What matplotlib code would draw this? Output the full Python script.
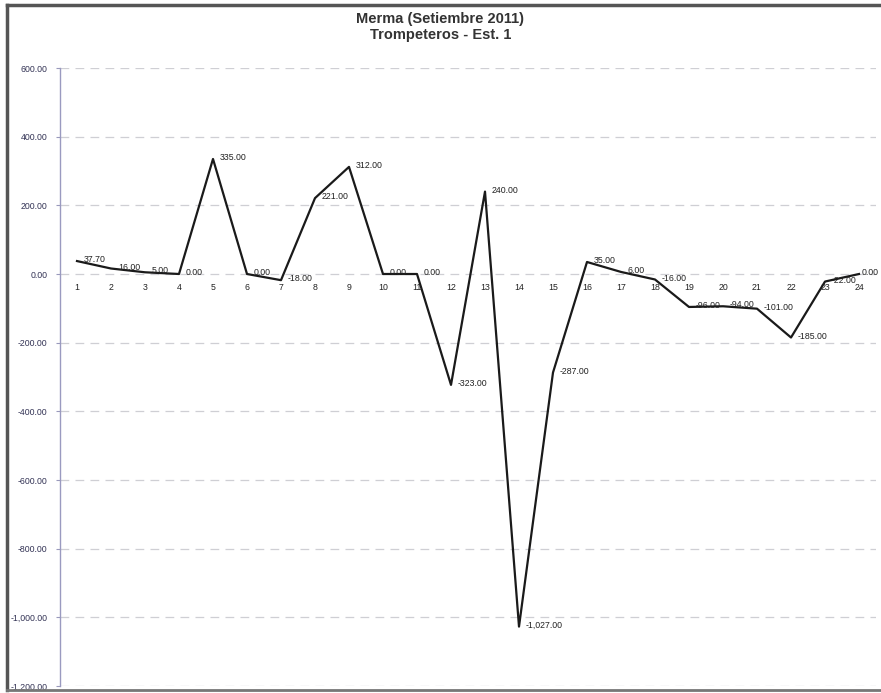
import matplotlib
matplotlib.use("Agg")
import matplotlib.pyplot as plt
from matplotlib.lines import Line2D

plt.rcParams['font.family'] = ['Liberation Sans', 'DejaVu Sans']

categories = [str(i) for i in range(1, 25)]
values = [37.70, 16.00, 5.00, 0.00, 335.00, 0.00, -18.00, 221.00, 312.00, 0.00,
          0.00, -323.00, 240.00, -1027.00, -287.00, 35.00, 6.00, -16.00,
          -96.00, -94.00, -101.00, -185.00, -22.00, 0.00]
yticks = [600, 400, 200, 0, -200, -400, -600, -800, -1000, -1200]

fig = plt.figure(figsize=(8.81, 6.93), dpi=100)
ax = fig.add_axes([60/881, 7/693, 816/881, 618/693])

x = list(range(len(categories)))
ax.plot(x, values, color='#1a1a1a', lw=1.6, zorder=3)

ax.set_xlim(-0.5, len(categories) - 0.5)
ax.set_ylim(-1200, 600)
ax.set_yticks(yticks)
ax.set_yticklabels([f"{v:,.2f}" for v in yticks], fontsize=6.3, color='#333355')
ax.tick_params(axis='y', length=3, color='#9999bb', pad=6)
ax.set_xticks([])

for v in yticks:
    ax.axhline(v, color='#cfcfd4', lw=0.9, ls=(0, (7, 5)), zorder=1)

for s in ['top', 'right', 'bottom']:
    ax.spines[s].set_visible(False)
ax.spines['left'].set_color('#9a9ac0')
ax.spines['left'].set_linewidth(1.0)

for i, c in enumerate(categories):
    ax.annotate(c, xy=(i, 0), xytext=(0, -10), textcoords='offset points',
                ha='center', va='center', fontsize=6.3, color='#222222')

n = len(values)
for i, v in enumerate(values):
    dx = 2 if i == n - 1 else 5
    ax.annotate(f"{v:,.2f}", xy=(i, v), xytext=(dx, 1), textcoords='offset points',
                ha='left', va='center', fontsize=6.3, color='#222222', annotation_clip=False)

fig.text(0.5, 0.961, "Merma (Setiembre 2011)\nTrompeteros - Est. 1", ha='center',
         va='center', fontsize=10.5, fontweight='bold', color='#333333', linespacing=1.15)

# scanned frame
fig.add_artist(Line2D([7/881, 1.0], [1 - 5/693, 1 - 5/693], transform=fig.transFigure,
                      color='#555555', lw=2.5))
fig.add_artist(Line2D([7/881, 7/881], [3/693, 1 - 5/693], transform=fig.transFigure,
                      color='#555555', lw=2.5))
fig.add_artist(Line2D([7/881, 1.0], [3/693, 3/693], transform=fig.transFigure,
                      color='#777777', lw=2.0))

fig.savefig("out.png", dpi=100)
